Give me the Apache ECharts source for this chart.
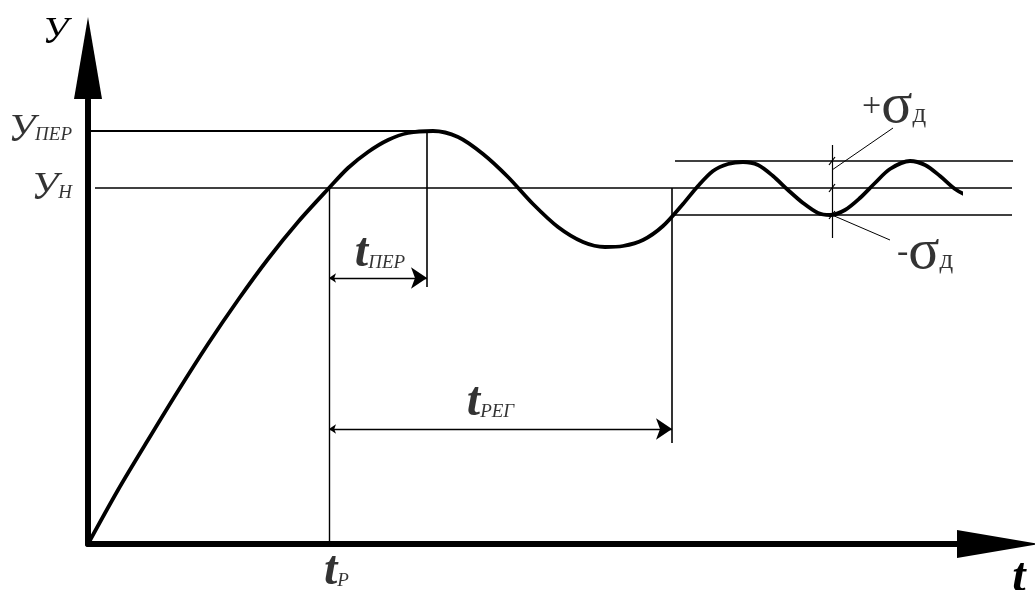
<!DOCTYPE html>
<html>
<head>
<meta charset="utf-8">
<script src="https://cdn.jsdelivr.net/npm/echarts@6/dist/echarts.min.js"></script>
<style>
  html, body { margin: 0; padding: 0; background: #fff; }
  #chart { width: 1035px; height: 590px; }
</style>
</head>
<body>
<div id="chart"></div>
<script>
// transient response y(t)
const respT = [0, 30, 60, 90, 120, 150, 180, 210, 241, 260, 280, 300, 320, 345, 370, 395, 420, 445, 470, 495, 517, 535, 555, 575, 595, 610, 625, 640, 655, 670, 685, 700, 715, 730, 742, 757, 772, 787, 802, 822, 837, 852, 867, 880, 889, 900, 912]
const respY = [0, 54, 104, 153, 200, 244, 285, 322, 356, 376, 392, 404, 411, 413, 407, 390, 367, 340, 317, 302, 297, 298, 304, 318, 340, 358, 373, 380, 382, 379, 368, 354, 341, 331, 329, 334, 346, 361, 375, 383, 379, 368, 355, 348, 346, 349, 356]

// levels
const yOver = 413   // У_ПЕР
const yNom = 356    // У_Н
const bandHi = 383  // +σд
const bandLo = 329  // -σд

// times
const tRise = 241    // t_Р
const tPeak = 339    // end of t_ПЕР
const tSettle = 584  // end of t_РЕГ
const tCheck = 744   // where the band is measured
const tEnd = 924

const serif = '"Liberation Serif", "Times New Roman", serif'

const chart = echarts.init(document.getElementById('chart'))

const thin = (coords, width) => ({ coords, lineStyle: { width: width || 1.4 } })
// little slanted tick where the check line crosses a level
const tick = y => thin([[tCheck - 3, y - 4], [tCheck + 3, y + 4]], 1.2)

const guides = [
  thin([[0, yOver], [tPeak, yOver]], 2),
  thin([[7, yNom], [tEnd, yNom]], 1.5),
  thin([[tSettle + 3, bandHi], [tEnd + 1, bandHi]], 1.6),
  thin([[tSettle, bandLo], [tEnd, bandLo]], 1.6),
  thin([[tRise, 0], [tRise, yNom]]),
  thin([[tPeak, yOver], [tPeak, 257]], 1.6),
  thin([[tSettle, yNom], [tSettle, 101]], 1.6),
  thin([[tCheck, 399], [tCheck, 306]], 1.2),
  thin([[tCheck, bandHi - 9], [805, 416]], 1),
  thin([[tCheck, bandLo], [802, 304]], 1),
  tick(bandHi),
  tick(yNom),
  tick(bandLo)
]

const dims = [
  { coords: [[tRise, 266], [tPeak, 266]] },
  { coords: [[tRise, 115], [tSettle, 115]] }
]

const rich = {
  m: { fontFamily: serif, fontStyle: 'italic', fontSize: 40, color: '#000' },
  t: { fontFamily: serif, fontStyle: 'italic', fontWeight: 'bold', fontSize: 48, color: '#000' },
  s: { fontFamily: serif, fontStyle: 'italic', fontSize: 19, color: '#000', verticalAlign: 'bottom', padding: [0, 0, 6, 0] },
  pm: { fontFamily: serif, fontSize: 34, color: '#000' },
  g: { fontFamily: serif, fontSize: 58, color: '#000' },
  d: { fontFamily: serif, fontSize: 27, color: '#000', verticalAlign: 'bottom', padding: [0, 0, 8, 0] }
}

const labelItem = (value, text, label) => ({
  value,
  label: Object.assign({ show: true, formatter: text, rich }, label)
})

const labels = [
  labelItem([0, yOver], '{m|У}{s|ПЕР}', { position: 'left', distance: 16, offset: [0, -1] }),
  labelItem([0, yNom], '{m|У}{s|Н}', { position: 'left', distance: 16, offset: [0, 0] }),
  labelItem([tRise, 0], '{t|t}{s|Р}', { position: [-5, 4], align: 'left', verticalAlign: 'top' }),
  labelItem([(tRise + tPeak) / 2, 266], '{t|t}{s|ПЕР}', { position: 'top', distance: 0, offset: [2, 0] }),
  labelItem([(tRise + tSettle) / 2, 115], '{t|t}{s|РЕГ}', { position: 'top', distance: 2, offset: [-10, 0] }),
  labelItem([805, 416], '{pm|+}{g|σ}{d|д}', { position: [-31, 8], align: 'left', verticalAlign: 'bottom' }),
  labelItem([802, 304], '{pm|-}{g|σ}{d|д}', { position: [7, -16], align: 'left', verticalAlign: 'top' })
]

const option = {
  backgroundColor: '#fff',
  animation: false,
  grid: { left: 88, right: 75, top: 100, bottom: 46, outerBoundsMode: 'none' },
  xAxis: {
    type: 'value',
    min: 0,
    max: 872,
    name: 't',
    nameLocation: 'end',
    nameGap: 59,
    nameTextStyle: {
      fontFamily: serif, fontStyle: 'italic', fontWeight: 'bold', fontSize: 48, color: '#000',
      align: 'center', verticalAlign: 'top', padding: [11, 0, 0, 0]
    },
    axisLine: {
      lineStyle: { color: '#000', width: 6 },
      symbol: ['none', 'triangle'],
      symbolSize: [28, 82],
      symbolOffset: [0, 38]
    },
    axisTick: { show: false },
    axisLabel: { show: false },
    splitLine: { show: false }
  },
  yAxis: {
    type: 'value',
    min: 0,
    max: 444,
    name: 'У',
    nameLocation: 'end',
    nameGap: 67,
    nameTextStyle: {
      fontFamily: serif, fontStyle: 'italic', fontSize: 38, color: '#000',
      align: 'right', verticalAlign: 'middle', padding: [0, 20, 0, 0]
    },
    axisLine: {
      lineStyle: { color: '#000', width: 6 },
      symbol: ['none', 'triangle'],
      symbolSize: [28, 82],
      symbolOffset: [0, 42]
    },
    axisTick: { show: false },
    axisLabel: { show: false },
    splitLine: { show: false }
  },
  series: [
    {
      name: 'guides',
      type: 'lines',
      coordinateSystem: 'cartesian2d',
      clip: false,
      silent: true,
      lineStyle: { color: '#000', opacity: 1 },
      data: guides
    },
    {
      name: 'dims',
      type: 'lines',
      coordinateSystem: 'cartesian2d',
      clip: false,
      silent: true,
      symbol: ['arrow', 'arrow'],
      symbolSize: [7, 16],
      lineStyle: { color: '#000', width: 1.4, opacity: 1 },
      data: dims
    },
    {
      name: 'y(t)',
      type: 'line',
      clip: false,
      smooth: 0.3,
      symbol: 'none',
      lineStyle: { color: '#000', width: 3.8 },
      data: respT.map((t, i) => [t, respY[i]])
    },
    {
      name: 'labels',
      type: 'scatter',
      clip: false,
      silent: true,
      symbolSize: 0,
      data: labels
    }
  ]
}

chart.setOption(option)
</script>
</body>
</html>
